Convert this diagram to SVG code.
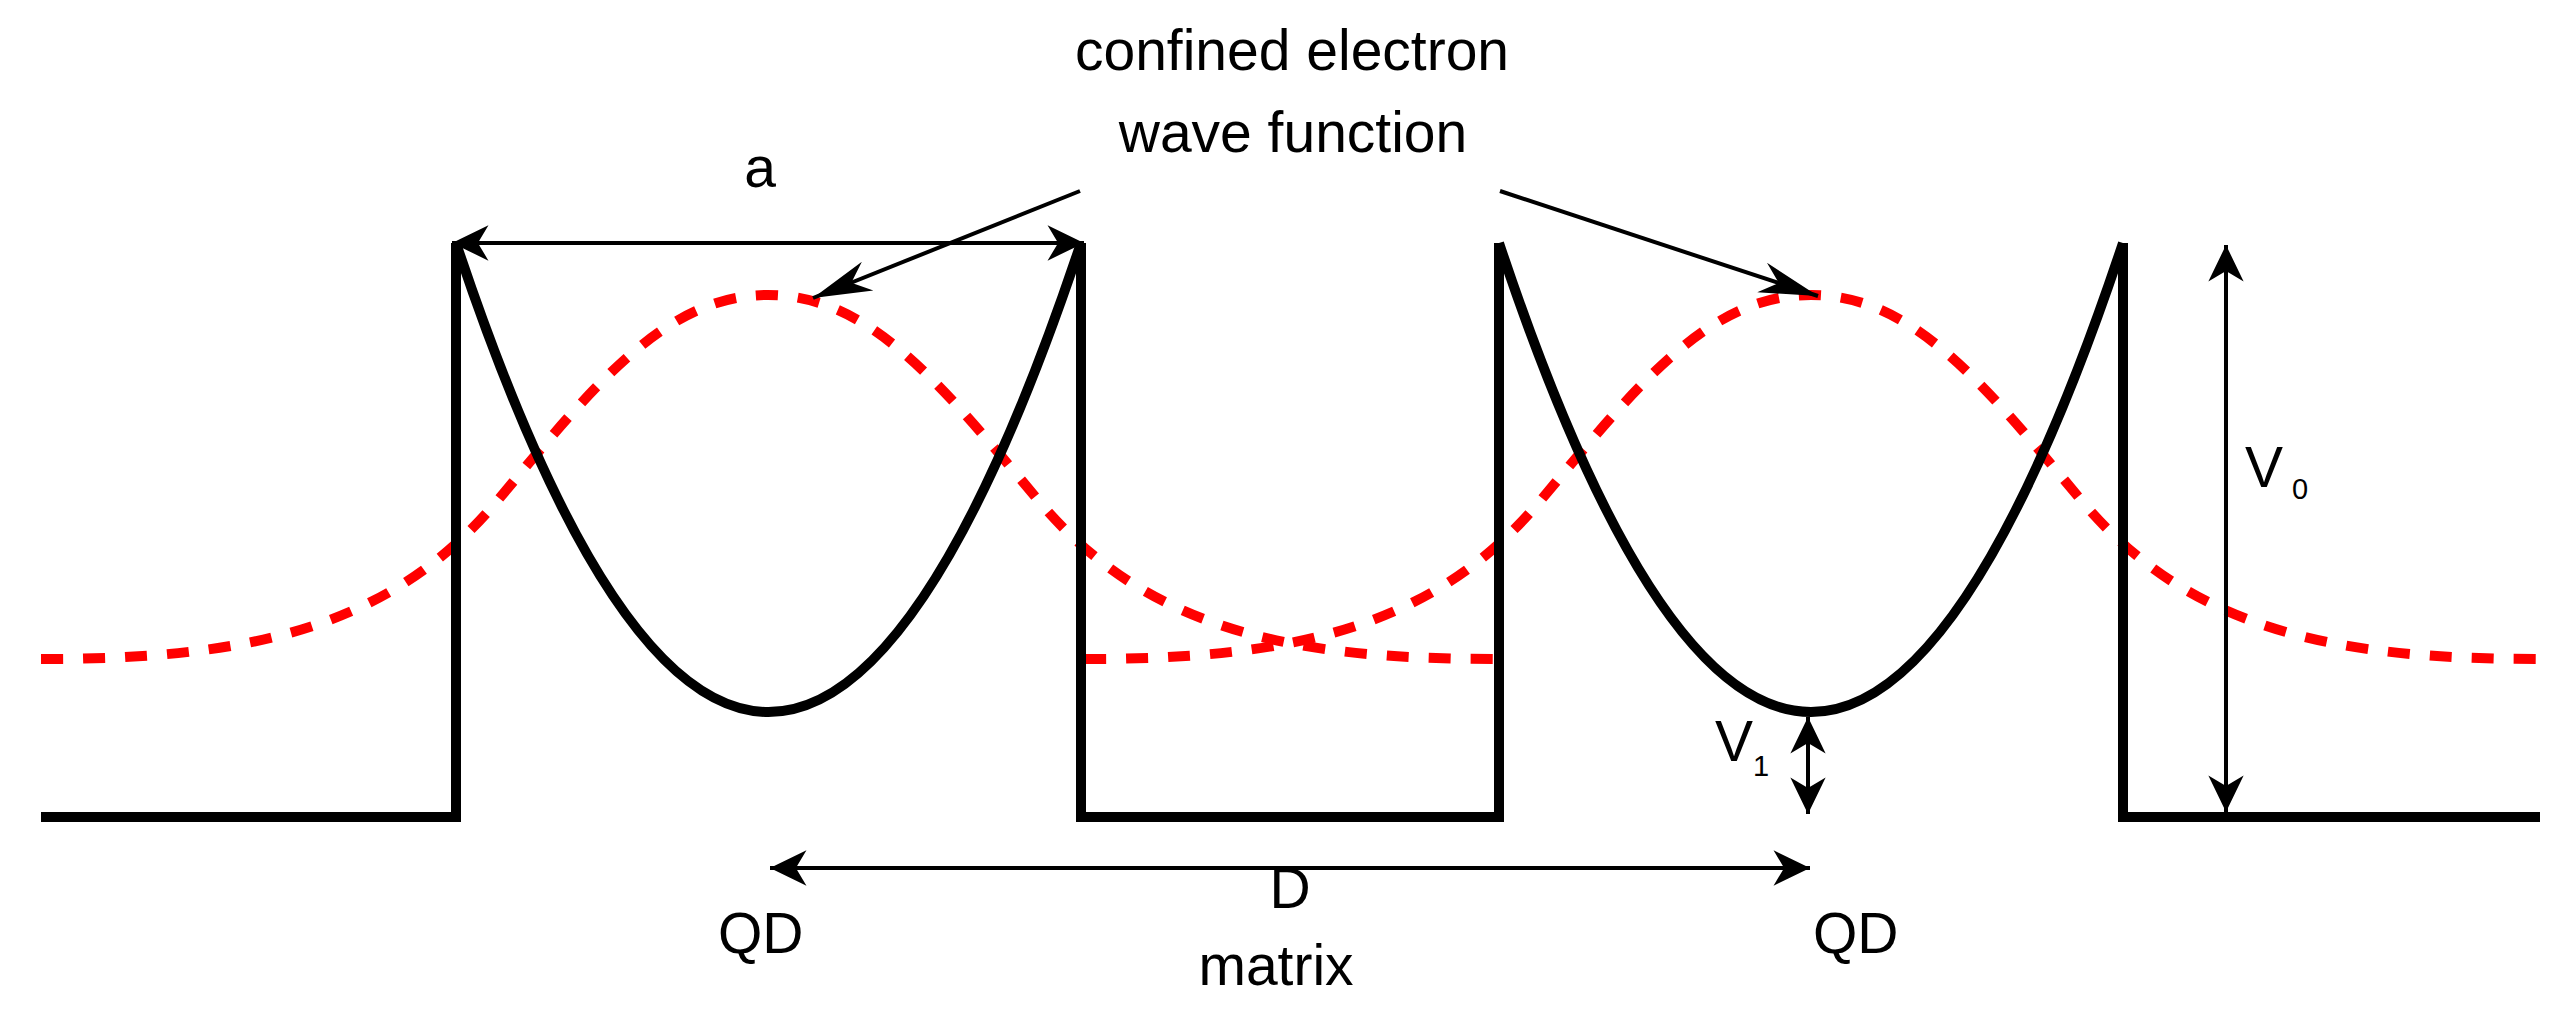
<svg xmlns="http://www.w3.org/2000/svg" width="2570" height="1018" viewBox="0 0 2570 1018">
  <defs>
    <style>
      .pot { fill: none; stroke: #000; stroke-width: 10; stroke-linejoin: miter; }
      .wave { fill: none; stroke: #ff0000; stroke-width: 10; stroke-dasharray: 22 20; }
      .dim { fill: none; stroke: #000; stroke-width: 4; }
      .lbl { font-family: "Liberation Sans", Arial, sans-serif; font-size: 57px; fill: #000; }
      .sub { font-family: "Liberation Sans", Arial, sans-serif; font-size: 29px; fill: #000; }
    </style>
    <marker id="ah" markerUnits="userSpaceOnUse" markerWidth="40" markerHeight="40" viewBox="-32 -16 34 32" refX="0" refY="0" orient="auto-start-reverse">
      <path d="M0,0 L-31,-15 L-22,0 L-31,15 Z" fill="#000"/>
    </marker>
    <marker id="ahl" markerUnits="userSpaceOnUse" markerWidth="64" markerHeight="40" viewBox="-60 -16 62 32" refX="0" refY="0" orient="auto">
      <path d="M0,0 L-57,-15 L-40,0 L-57,15 Z" fill="#000"/>
    </marker>
  </defs>
  <rect width="2570" height="1018" fill="#fff"/>

  <g id="wavefunctions">
    <path id="wave-qd1" class="wave" d="M41,659 C241,659 388,632 498,500 C598,380 668,295 768,295 C868,295 938,380 1038,500 C1148,632 1295,659 1495,659"/>
    <path id="wave-qd2" class="wave" d="M1084,659 C1284,659 1431,632 1541,500 C1641,380 1711,295 1811,295 C1911,295 1981,380 2081,500 C2191,632 2338,659 2538,659"/>
  </g>

  <g id="potential">
    <path id="matrix-left" class="pot" d="M41,817 H456 V243"/>
    <path id="qd1-parabola" class="pot" d="M456,243 Q768.5,1181 1081,243"/>
    <path id="matrix-middle" class="pot" d="M1081,243 V817 H1499 V243"/>
    <path id="qd2-parabola" class="pot" d="M1499,243 Q1811,1181 2123,243"/>
    <path id="matrix-right" class="pot" d="M2123,243 V817 H2540"/>
  </g>

  <g id="connectors">
    <line id="arrow-a" class="dim" x1="452" y1="243" x2="1084" y2="243" marker-start="url(#ah)" marker-end="url(#ah)"/>
    <line id="arrow-D" class="dim" x1="770" y1="868" x2="1810" y2="868" marker-start="url(#ah)" marker-end="url(#ah)"/>
    <line id="arrow-V0" class="dim" x1="2226" y1="245" x2="2226" y2="812" marker-start="url(#ah)" marker-end="url(#ah)"/>
    <line id="arrow-V1" class="dim" x1="1808" y1="717" x2="1808" y2="814" marker-start="url(#ah)" marker-end="url(#ah)"/>
    <line id="pointer-left" class="dim" x1="1080" y1="191" x2="813" y2="298" marker-end="url(#ahl)"/>
    <line id="pointer-right" class="dim" x1="1500" y1="191" x2="1818" y2="296" marker-end="url(#ahl)"/>
  </g>

  <g id="label-wavefunction">
    <text class="lbl" x="1292" y="70" text-anchor="middle">confined electron</text>
    <text class="lbl" x="1293" y="152" text-anchor="middle">wave function</text>
  </g>
  <g id="label-a"><text class="lbl" x="760" y="187" text-anchor="middle">a</text></g>
  <g id="label-V0"><text class="lbl" x="2245" y="487">V</text><text class="sub" x="2292" y="499">0</text></g>
  <g id="label-V1"><text class="lbl" x="1715" y="761">V</text><text class="sub" x="1753" y="776">1</text></g>
  <g id="label-D"><text class="lbl" x="1290" y="908" text-anchor="middle">D</text></g>
  <g id="label-QD-left"><text class="lbl" x="718" y="953">QD</text></g>
  <g id="label-QD-right"><text class="lbl" x="1813" y="953">QD</text></g>
  <g id="label-matrix"><text class="lbl" x="1276" y="985" text-anchor="middle">matrix</text></g>
</svg>
